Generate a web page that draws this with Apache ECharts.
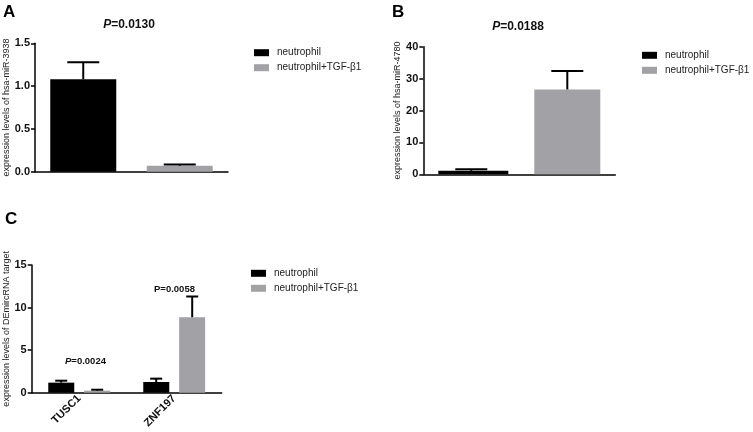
<!DOCTYPE html>
<html>
<head>
<meta charset="utf-8">
<script src="https://cdn.jsdelivr.net/npm/echarts@6/dist/echarts.min.js"></script>
<style>
  html, body { margin: 0; padding: 0; background: #fff; }
  #chart { width: 753px; height: 432px; }
</style>
</head>
<body>
<div id="chart"></div>
<script>
// groups shown in every panel
const groups = ['neutrophil', 'neutrophil+TGF-β1'];

// panel A: hsa-miR-3938
const aMean = [1.08, 0.07];
const aErr = [0.20, 0.015];
// panel B: hsa-miR-4780
const bMean = [1.1, 26.6];
const bErr = [0.45, 5.8];
// panel C: DEmircRNA targets
const cGenes = ['TUSC1', 'ZNF197'];
const cNeutro = [1.18, 1.26];
const cNeutroErr = [0.23, 0.39];
const cTgf = [0.24, 8.87];
const cTgfErr = [0.11, 2.43];

const FONT = 'Liberation Sans, Arial, sans-serif';
const BLACK = '#000000';
const GREY = '#a2a2a6';

const chart = echarts.init(document.getElementById('chart'));

function errBar(offset, capHalf) {
  return function (params, api) {
    const cat = api.value(0), mean = api.value(1), err = api.value(2);
    const base = api.coord([cat, mean]);
    const top = api.coord([cat, mean + err]);
    const x = base[0] + offset;
    const st = { stroke: '#000', lineWidth: 2 };
    return {
      type: 'group',
      children: [
        { type: 'line', shape: { x1: x, y1: base[1], x2: x, y2: top[1] }, style: st },
        { type: 'line', shape: { x1: x - capHalf, y1: top[1], x2: x + capHalf, y2: top[1] }, style: st }
      ]
    };
  };
}

function yAxis(idx, max, step, name, gap, dec) {
  return {
    type: 'value', gridIndex: idx, min: 0, max: max, interval: step,
    name: name, nameLocation: 'middle', nameGap: gap, nameRotate: 90,
    nameTextStyle: { fontFamily: FONT, fontSize: 9, color: '#222' },
    splitLine: { show: false },
    axisLine: { show: true, lineStyle: { color: '#000', width: 1.5 } },
    axisTick: { show: true, length: 4, lineStyle: { color: '#000', width: 1.5 } },
    axisLabel: {
      fontFamily: FONT, fontSize: 11, fontWeight: 'bold', color: '#111', margin: 5,
      formatter: v => v.toFixed(dec)
    }
  };
}

function xAxis(idx, data, labels) {
  return {
    type: 'category', gridIndex: idx, data: data,
    axisLine: { lineStyle: { color: '#000', width: 1.5 } },
    axisTick: { alignWithLabel: true, length: 4, lineStyle: { color: '#000', width: 1.5 } },
    axisLabel: labels ? {
      rotate: 45, fontFamily: FONT, fontSize: 11, fontWeight: 'bold', color: '#111', margin: 4
    } : { show: false }
  };
}

function legend(left, top) {
  return {
    left: left, top: top, orient: 'vertical', icon: 'rect', padding: 0,
    itemWidth: 15, itemHeight: 7, itemGap: 3,
    data: groups,
    textStyle: { fontFamily: FONT, fontSize: 10, color: '#222', lineHeight: 12, padding: [0, 0, 0, 3] }
  };
}

function pText(x, y, txt, size, italicP) {
  return {
    type: 'text', x: x, y: y,
    style: {
      text: italicP ? '{i|P}=' + txt : 'P=' + txt,
      fontFamily: FONT, fontSize: size, fontWeight: 'bold', fill: '#111',
      align: 'center', verticalAlign: 'middle',
      rich: { i: { fontStyle: 'italic', fontFamily: FONT, fontSize: size, fontWeight: 'bold' } }
    }
  };
}

function letter(x, y, t) {
  return {
    type: 'text', x: x, y: y,
    style: { text: t, fontFamily: FONT, fontSize: 17, fontWeight: 'bold', fill: '#000', verticalAlign: 'middle' }
  };
}

const option = {
  animation: false,
  grid: [
    { left: 35, top: 43.3, width: 193, height: 128.4 },
    { left: 423.3, top: 46.7, width: 192, height: 127.6 },
    { left: 31.7, top: 265, width: 190, height: 127.7 }
  ],
  xAxis: [
    xAxis(0, groups, false),
    xAxis(1, groups, false),
    xAxis(2, cGenes, true)
  ],
  yAxis: [
    yAxis(0, 1.5, 0.5, 'expression levels of hsa-miR-3938', 20, 1),
    yAxis(1, 40, 10, 'expression levels of hsa-miR-4780', 20, 0),
    yAxis(2, 15, 5, 'expression levels of DEmircRNA target', 18, 0)
  ],
  legend: [legend(254, 46.7), legend(642, 49.3), legend(251, 267.3)],
  series: [
    // panel A
    { name: groups[0], type: 'bar', xAxisIndex: 0, yAxisIndex: 0, barWidth: 66, barGap: '-100%',
      itemStyle: { color: BLACK }, data: [aMean[0], null] },
    { name: groups[1], type: 'bar', xAxisIndex: 0, yAxisIndex: 0, barWidth: 66, barGap: '-100%',
      itemStyle: { color: GREY }, data: [null, aMean[1]] },
    { type: 'custom', xAxisIndex: 0, yAxisIndex: 0, z: 5, renderItem: errBar(0, 16),
      encode: { x: 0, y: 1 }, data: aMean.map((m, i) => [i, m, aErr[i]]) },
    // panel B
    { name: groups[0], type: 'bar', xAxisIndex: 1, yAxisIndex: 1, barWidth: 70, barGap: '-100%',
      itemStyle: { color: BLACK }, data: [bMean[0], null] },
    { name: groups[1], type: 'bar', xAxisIndex: 1, yAxisIndex: 1, barWidth: 66, barGap: '-100%',
      itemStyle: { color: GREY }, data: [null, bMean[1]] },
    { type: 'custom', xAxisIndex: 1, yAxisIndex: 1, z: 5, renderItem: errBar(0, 16),
      encode: { x: 0, y: 1 }, data: bMean.map((m, i) => [i, m, bErr[i]]) },
    // panel C
    { name: groups[0], type: 'bar', xAxisIndex: 2, yAxisIndex: 2, barWidth: 26, barGap: '38%',
      itemStyle: { color: BLACK }, data: cNeutro },
    { name: groups[1], type: 'bar', xAxisIndex: 2, yAxisIndex: 2, barWidth: 26, barGap: '38%',
      itemStyle: { color: GREY }, data: cTgf },
    { type: 'custom', xAxisIndex: 2, yAxisIndex: 2, z: 5, renderItem: errBar(-18, 6),
      encode: { x: 0, y: 1 }, data: cNeutro.map((m, i) => [i, m, cNeutroErr[i]]) },
    { type: 'custom', xAxisIndex: 2, yAxisIndex: 2, z: 5, renderItem: errBar(18, 6),
      encode: { x: 0, y: 1 }, data: cTgf.map((m, i) => [i, m, cTgfErr[i]]) }
  ],
  graphic: [
    letter(3, 12, 'A'),
    letter(392, 12, 'B'),
    letter(5, 219.5, 'C'),
    pText(129, 25, '0.0130', 12, true),
    pText(518, 26.7, '0.0188', 12, true),
    pText(85.5, 361.7, '0.0024', 9.5, true),
    pText(174.5, 289, '0.0058', 9.5, false)
  ]
};

chart.setOption(option);
</script>
</body>
</html>
